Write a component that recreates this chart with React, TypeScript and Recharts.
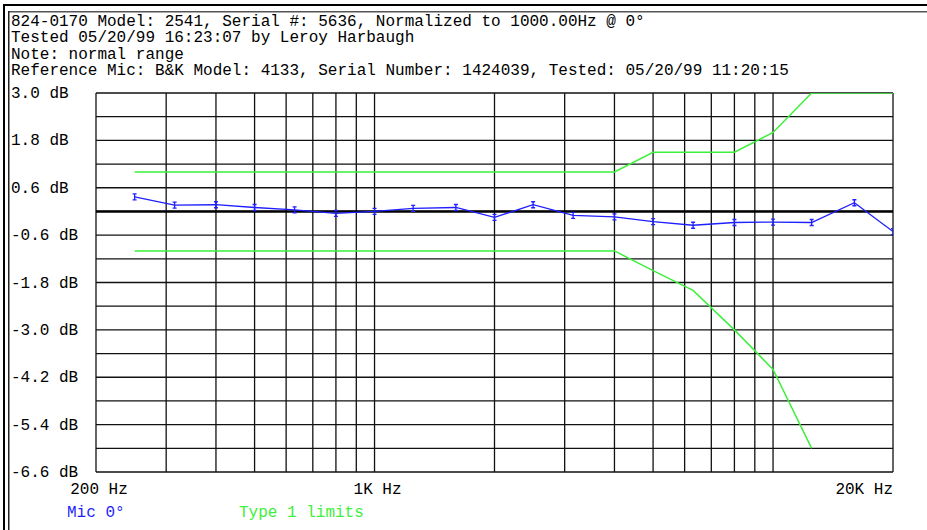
import { LineChart, Line, XAxis, YAxis, CartesianGrid, ReferenceLine } from 'recharts'

// 1/3-octave measurement of the mic, dB relative to 1 kHz
const micFreq = [250, 315, 400, 500, 630, 800, 1000, 1250, 1600, 2000, 2500, 3150, 4000, 5000, 6300, 8000, 10000, 12500, 16000, 20000]
const micDb = [0.37, 0.16, 0.17, 0.1, 0.04, -0.05, 0.0, 0.08, 0.1, -0.15, 0.17, -0.1, -0.14, -0.26, -0.35, -0.28, -0.27, -0.28, 0.22, -0.51]

// Type 1 tolerance limits
const upperFreq = [250, 4000, 5000, 6300, 8000, 10000, 12500, 16000, 20000]
const upperDb = [1, 1, 1.5, 1.5, 1.5, 2, 3, 3, 3]
const lowerFreq = [250, 4000, 5000, 6300, 8000, 10000, 12500]
const lowerDb = [-1, -1, -1.5, -2, -3, -4, -6]

const freqTicks = [200, 300, 400, 500, 600, 700, 800, 900, 1000, 2000, 3000, 4000, 5000, 6000, 7000, 8000, 9000, 10000, 20000]
const freqLabels = ['200 Hz', '', '', '', '', '', '', '', '1K Hz', '', '', '', '', '', '', '', '', '', '20K Hz']

const dbTicks = [3.0, 2.4, 1.8, 1.2, 0.6, 0, -0.6, -1.2, -1.8, -2.4, -3.0, -3.6, -4.2, -4.8, -5.4, -6.0, -6.6]
const dbLabels = ['3.0 dB', '', '1.8 dB', '', '0.6 dB', '', '-0.6 dB', '', '-1.8 dB', '', '-3.0 dB', '', '-4.2 dB', '', '-5.4 dB', '', '-6.6 dB']

const headerLines = [
  '824-0170 Model: 2541, Serial #: 5636, Normalized to 1000.00Hz @ 0°',
  'Tested 05/20/99 16:23:07 by Leroy Harbaugh',
  'Note: normal range',
  'Reference Mic: B&K Model: 4133, Serial Number: 1424039, Tested: 05/20/99 11:20:15',
]

const FONT = '"Liberation Mono", "Courier New", monospace'
const BLUE = '#1f1fff'
const GREEN = '#3cf03c'

const micData = micFreq.map((f, i) => ({ f, db: micDb[i] }))
const upperData = upperFreq.map((f, i) => ({ f, db: upperDb[i] }))
const lowerData = lowerFreq.map((f, i) => ({ f, db: lowerDb[i] }))

function XTick(props: any) {
  const { x, y, payload } = props
  const label = freqLabels[freqTicks.indexOf(payload.value)]
  if (!label) return null
  const last = payload.value === 20000
  return (
    <text x={last ? x : x + 3} y={494} textAnchor={last ? 'end' : 'middle'} fontFamily={FONT} fontSize={16} fill="#000">
      {label}
    </text>
  )
}

function YTick(props: any) {
  const { y, payload } = props
  const label = dbLabels[dbTicks.indexOf(payload.value)]
  if (!label) return null
  return (
    <text x={11} y={y + 5} textAnchor="start" fontFamily={FONT} fontSize={16} fill="#000">
      {label}
    </text>
  )
}

function MicDot(props: any) {
  const { cx, cy, index } = props
  if (cx == null || cy == null) return null
  return (
    <path
      key={`d${index}`}
      d={`M${cx - 2},${cy - 3}H${cx + 2}M${cx},${cy - 3}V${cy + 3}M${cx - 2},${cy + 3}H${cx + 2}`}
      stroke={BLUE}
      strokeWidth={1.3}
      fill="none"
    />
  )
}

export default function App() {
  return (
    <div style={{ position: 'absolute', left: 0, top: 0, width: 927, height: 530, background: '#fff' }}>
      <LineChart width={927} height={530} data={micData} margin={{ top: 93, right: 34, bottom: 0, left: 0 }}>
        <CartesianGrid stroke="#111" strokeWidth={1.3} />
        <XAxis
          dataKey="f"
          type="number"
          scale="log"
          domain={[200, 20000]}
          ticks={freqTicks}
          interval={0}
          height={58}
          axisLine={false}
          tickLine={false}
          tick={XTick}
          allowDataOverflow
        />
        <YAxis
          type="number"
          domain={[-6.6, 3]}
          ticks={dbTicks}
          interval={0}
          width={96}
          axisLine={false}
          tickLine={false}
          tick={YTick}
          allowDataOverflow
        />
        <ReferenceLine y={0} stroke="#000" strokeWidth={2.6} />
        <Line data={upperData} dataKey="db" stroke={GREEN} strokeWidth={1.5} dot={false} isAnimationActive={false} type="linear" />
        <Line data={lowerData} dataKey="db" stroke={GREEN} strokeWidth={1.5} dot={false} isAnimationActive={false} type="linear" />
        <Line data={micData} dataKey="db" stroke={BLUE} strokeWidth={1.3} dot={MicDot} isAnimationActive={false} type="linear" />
      </LineChart>
      <svg width={927} height={530} style={{ position: 'absolute', left: 0, top: 0, pointerEvents: 'none' }}>
        <rect x={3} y={4} width={924} height={2} fill="#000" />
        <rect x={3} y={4} width={2} height={526} fill="#000" />
        <rect x={8} y={11} width={919} height={1.5} fill="#555" />
        <rect x={8} y={11} width={1.5} height={519} fill="#222" />
        {headerLines.map((t, i) => (
          <text key={i} x={11} y={26 + i * 16.3} fontFamily={FONT} fontSize={16} fill="#000" style={{ whiteSpace: 'pre' }}>
            {t}
          </text>
        ))}
        <text x={67} y={517} fontFamily={FONT} fontSize={16} fill={BLUE}>Mic 0°</text>
        <text x={239} y={517} fontFamily={FONT} fontSize={16} fill={GREEN}>Type 1 limits</text>
      </svg>
    </div>
  )
}
